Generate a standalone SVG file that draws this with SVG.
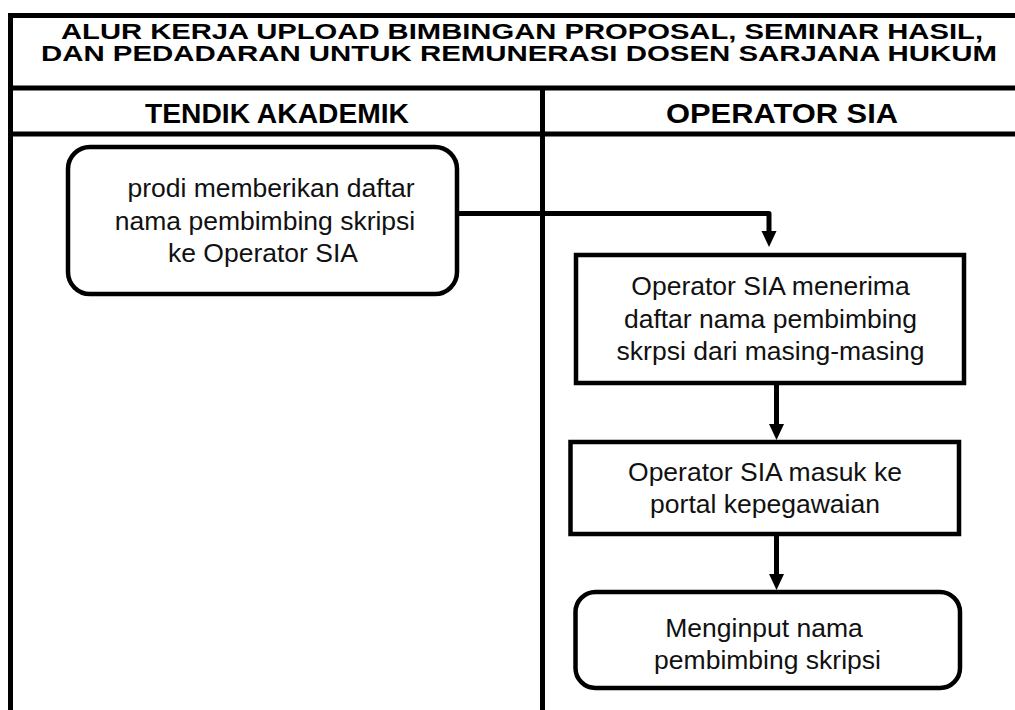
<svg xmlns="http://www.w3.org/2000/svg" width="1015" height="710" viewBox="0 0 1015 710">
<style>
.frame{stroke:#000;stroke-width:5;fill:none}
.box{stroke:#000;stroke-width:4.5;fill:#fff}
.t{font-family:"Liberation Sans",Arial,sans-serif;font-size:26.5px;fill:#111;text-anchor:middle}
.h{font-family:"Liberation Sans",Arial,sans-serif;font-weight:bold;fill:#000}
.conn{stroke:#000;stroke-width:5;fill:none;stroke-linejoin:round}
</style>
<defs>
<marker id="ah" markerUnits="userSpaceOnUse" markerWidth="18" markerHeight="16" refX="0" refY="7.5" orient="auto">
<path d="M0,0 L16,7.5 L0,15 z" fill="#000"/>
</marker>
</defs>
<rect width="1015" height="710" fill="#fff"/>
<g id="frame">
<path class="frame" d="M8,15.5 H1015 M10.5,13 V710 M8,88 H1015 M8,134 H1015 M542.5,88 V710"/>
<text class="h" x="61" y="38.5" font-size="21.5" textLength="922" lengthAdjust="spacingAndGlyphs">ALUR KERJA UPLOAD BIMBINGAN PROPOSAL, SEMINAR HASIL,</text>
<text class="h" x="41" y="60.5" font-size="21.5" textLength="956" lengthAdjust="spacingAndGlyphs">DAN PEDADARAN UNTUK REMUNERASI DOSEN SARJANA HUKUM</text>
<text class="h" x="145" y="122.5" font-size="28" textLength="264" lengthAdjust="spacingAndGlyphs">TENDIK AKADEMIK</text>
<text class="h" x="666" y="122.5" font-size="28" textLength="232" lengthAdjust="spacingAndGlyphs">OPERATOR SIA</text>
</g>
<g id="connectors">
<path class="conn" d="M457,213.5 H769 V231" marker-end="url(#ah)"/>
<path class="conn" d="M776.5,383 V424" marker-end="url(#ah)"/>
<path class="conn" d="M776.5,534 V574" marker-end="url(#ah)"/>
</g>
<g id="n1">
<rect class="box" x="68" y="147" width="389" height="147" rx="22"/>
<text class="t" x="271" y="197">prodi memberikan daftar</text>
<text class="t" x="265" y="229.5">nama pembimbing skripsi</text>
<text class="t" x="263" y="262">ke Operator SIA</text>
</g>
<g id="n2">
<rect class="box" x="576" y="255" width="388" height="128"/>
<text class="t" x="770.5" y="295">Operator SIA menerima</text>
<text class="t" x="770.5" y="327.5">daftar nama pembimbing</text>
<text class="t" x="770.5" y="360">skrpsi dari masing-masing</text>
</g>
<g id="n3">
<rect class="box" x="570.5" y="442" width="388.5" height="92"/>
<text class="t" x="765" y="481">Operator SIA masuk ke</text>
<text class="t" x="765" y="513">portal kepegawaian</text>
</g>
<g id="n4">
<rect class="box" x="575.5" y="592" width="384.5" height="96" rx="20"/>
<text class="t" x="764" y="637">Menginput nama</text>
<text class="t" x="767.5" y="669">pembimbing skripsi</text>
</g>
</svg>
